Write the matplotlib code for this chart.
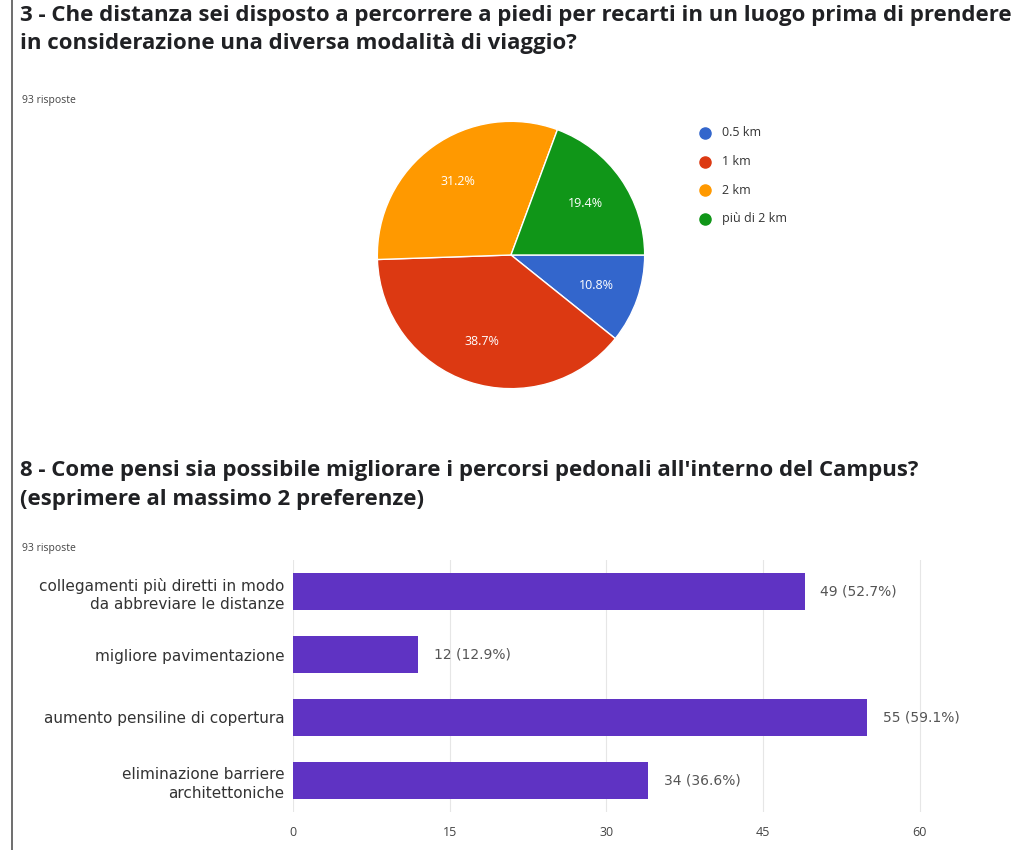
import matplotlib
matplotlib.use("Agg")
import numpy as np
import matplotlib.pyplot as plt
from matplotlib.lines import Line2D

plt.rcParams['font.family'] = ['Open Sans', 'DejaVu Sans']

# --- data: question 3 (pie)
pie_labels = ["0.5 km", "1 km", "2 km", "più di 2 km"]
pie_counts = [10, 36, 29, 18]
pie_colors = ["#3366cc", "#dc3912", "#ff9900", "#109618"]

# --- data: question 8 (bar)
bar_labels = ["collegamenti più diretti in modo\nda abbreviare le distanze",
              "migliore pavimentazione",
              "aumento pensiline di copertura",
              "eliminazione barriere\narchitettoniche"]
bar_counts = [49, 12, 55, 34]
n_risposte = 93
bar_ticks = [0, 15, 30, 45, 60]

W, H = 1023, 850
fig = plt.figure(figsize=(W / 100, H / 100), dpi=100)
fig.patch.set_facecolor("white")

def box(x, y, w, h):
    # pixel box (top-left origin) -> figure fraction
    return [x / W, 1 - (y + h) / H, w / W, h / H]

def ftext(x, y, s, **kw):
    fig.text(x / W, 1 - y / H, s, **kw)

# left border line
fig.add_artist(Line2D([12 / W, 12 / W], [0, 1], color="#555555", lw=1.2))

# titles
TFS = 16
ftext(20, 15, "3 - Che distanza sei disposto a percorrere a piedi per recarti in un luogo prima di prendere",
      fontsize=TFS, fontweight="bold", color="#202124", va="center")
ftext(20, 44, "in considerazione una diversa modalità di viaggio?",
      fontsize=TFS, fontweight="bold", color="#202124", va="center")
ftext(22, 101, "%d risposte" % n_risposte, fontsize=7.5, color="#444444", va="center")

# pie
ax1 = fig.add_axes(box(376, 120, 270, 270))
wedges, texts = ax1.pie(pie_counts, colors=pie_colors, startangle=0, counterclock=False,
                        radius=1, wedgeprops=dict(edgecolor="white", linewidth=1))
total = sum(pie_counts)
for w, c in zip(wedges, pie_counts):
    mid = np.deg2rad((w.theta1 + w.theta2) / 2)
    ax1.text(0.68 * np.cos(mid), 0.68 * np.sin(mid), "%.1f%%" % (100 * c / total),
             color="white", fontsize=9, ha="center", va="center")
ax1.set_xlim(-1.01, 1.01)
ax1.set_ylim(-1.01, 1.01)
ax1.set_aspect("equal")
ax1.axis("off")

# legend
for i, (lab, col) in enumerate(zip(pie_labels, pie_colors)):
    y = 133 + i * 28.5
    fig.add_artist(Line2D([705 / W], [1 - y / H], marker="o", markersize=8,
                          color=col, linestyle="none"))
    ftext(722, y, lab, fontsize=9, color="#333333", va="center")

# second question
ftext(20, 470, "8 - Come pensi sia possibile migliorare i percorsi pedonali all'interno del Campus?",
      fontsize=TFS, fontweight="bold", color="#202124", va="center")
ftext(20, 500, "(esprimere al massimo 2 preferenze)",
      fontsize=TFS, fontweight="bold", color="#202124", va="center")
ftext(22, 549, "%d risposte" % n_risposte, fontsize=7.5, color="#444444", va="center")

ax2 = fig.add_axes(box(293, 560, 707, 252))
ypos = list(range(len(bar_counts)))
ax2.barh(ypos, bar_counts, height=0.6, color="#5f33c3")
ax2.set_ylim(len(bar_counts) - 0.5, -0.5)
ax2.set_xlim(0, 67.7)
ax2.set_yticks(ypos)
ax2.set_yticklabels(bar_labels, fontsize=11, color="#333333", linespacing=1.3,
                    family=["DejaVu Sans"])
ax2.set_xticks(bar_ticks)
ax2.set_xticklabels([str(t) for t in bar_ticks], fontsize=9, color="#444444")
ax2.tick_params(length=0, pad=6)
ax2.tick_params(axis="x", pad=10)
ax2.grid(axis="x", color="#e6e6e6", lw=0.8)
ax2.set_axisbelow(True)
for s in ax2.spines.values():
    s.set_visible(False)
for y, c in zip(ypos, bar_counts):
    ax2.text(c + 1.5, y, "%d (%.1f%%)" % (c, 100 * c / n_risposte),
             fontsize=10, color="#555555", va="center", family=["DejaVu Sans"])

fig.savefig("out.png", dpi=100, facecolor="white")
